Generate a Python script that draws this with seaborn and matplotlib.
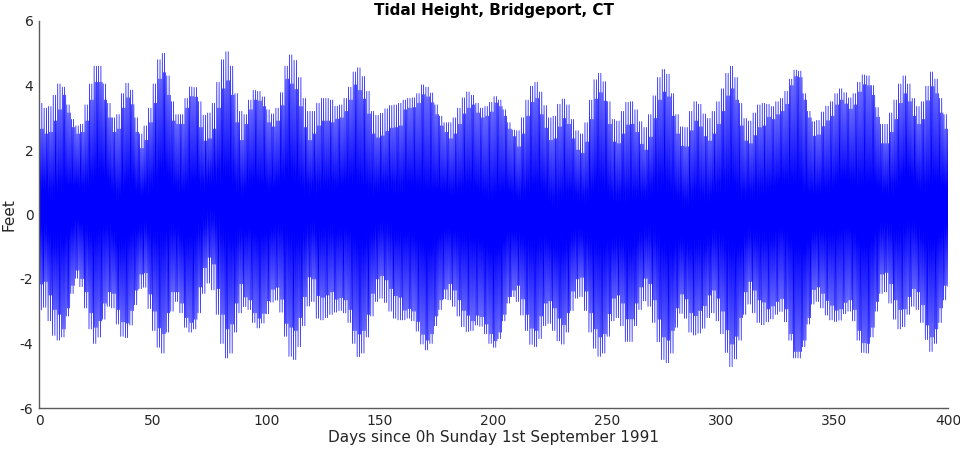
import numpy as np
import pandas as pd
import matplotlib
matplotlib.use("Agg")
import matplotlib.pyplot as plt
import seaborn as sns

# Envelope of the tide record, one sample every 2 days
days = list(range(0, 401, 2))
high_water = [
    3.45, 3.3, 3.35, 3.7, 4.05, 3.95, 3.4, 2.95, 2.75, 2.8,
    3.4, 4.05, 4.6, 4.6, 4.05, 3.45, 3.0, 3.1, 3.75, 4.07,
    3.86, 3.0, 2.5, 2.75, 3.3, 4.05, 4.8, 5.0, 4.3, 3.5,
    3.1, 3.1, 3.6, 3.96, 3.94, 3.5, 3.08, 3.15, 3.45, 4.1,
    4.8, 5.05, 4.6, 3.75, 3.2, 3.1, 3.55, 3.85, 3.82, 3.65,
    3.25, 3.12, 3.3, 3.78, 4.6, 4.95, 4.78, 4.25, 3.6, 3.2,
    3.2, 3.45, 3.6, 3.6, 3.55, 3.36, 3.4, 3.6, 3.95, 4.42,
    4.55, 4.28, 3.82, 3.2, 3.08, 3.14, 3.28, 3.38, 3.4, 3.45,
    3.55, 3.6, 3.62, 3.75, 4.02, 3.95, 3.77, 3.4, 3.05, 2.85,
    2.85, 3.0, 3.3, 3.62, 3.8, 3.7, 3.45, 3.3, 3.35, 3.48,
    3.66, 3.55, 3.25, 2.85, 2.62, 2.6, 3.0, 3.55, 3.98, 4.1,
    3.8, 3.38, 3.0, 3.05, 3.42, 3.58, 3.4, 2.95, 2.6, 2.5,
    2.85, 3.55, 4.18, 4.38, 4.12, 3.5, 2.95, 2.9, 3.2, 3.48,
    3.5, 3.25, 2.88, 2.7, 3.1, 3.68, 4.25, 4.5, 4.35, 3.75,
    3.1, 2.72, 2.7, 3.2, 3.5, 3.42, 3.12, 2.98, 3.2, 3.5,
    3.9, 4.38, 4.6, 4.25, 3.45, 2.98, 2.9, 3.15, 3.4, 3.45,
    3.42, 3.35, 3.5, 3.6, 3.82, 4.2, 4.48, 4.45, 3.75, 3.2,
    2.88, 2.92, 3.18, 3.36, 3.5, 3.75, 3.9, 3.78, 3.62, 3.75,
    4.1, 4.33, 4.3, 4.0, 3.32, 2.8, 2.8, 3.15, 3.55, 4.05,
    4.3, 4.05, 3.6, 3.35, 3.5, 3.98, 4.42, 4.2, 3.6, 3.1,
    2.62,
]
low_water = [
    -2.96, -2.88, -3.3, -3.75, -3.9, -3.8, -3.15, -2.45, -1.98, -2.24,
    -2.9, -3.55, -4.0, -3.8, -3.25, -2.85, -2.9, -3.4, -3.78, -3.82,
    -3.43, -2.8, -2.3, -2.26, -2.92, -3.6, -4.12, -4.3, -3.65, -3.0,
    -2.7, -3.05, -3.5, -3.65, -3.55, -3.05, -2.45, -2.13, -2.34, -3.1,
    -4.0, -4.45, -4.3, -3.65, -3.05, -2.86, -2.95, -3.35, -3.52, -3.37,
    -3.08, -2.72, -2.66, -3.03, -3.78, -4.4, -4.5, -4.1, -3.45, -2.84,
    -2.7, -3.22, -3.27, -3.2, -3.1, -3.03, -2.98, -3.05, -3.35, -4.0,
    -4.41, -4.3, -3.8, -3.15, -2.7, -2.6, -2.73, -3.0, -3.22, -3.27,
    -3.27, -3.22, -3.3, -3.62, -4.02, -4.2, -4.0, -3.45, -2.95, -2.62,
    -2.65, -2.85, -3.15, -3.48, -3.63, -3.6, -3.43, -3.47, -3.7, -4.0,
    -4.12, -3.85, -3.3, -2.75, -2.55, -2.7, -3.12, -3.6, -4.03, -4.1,
    -3.85, -3.45, -3.38, -3.6, -3.92, -4.02, -3.65, -2.98, -2.6, -2.55,
    -2.98, -3.65, -4.15, -4.4, -4.3, -3.78, -3.3, -3.2, -3.45, -3.94,
    -3.94, -3.45, -2.95, -2.68, -2.85, -3.35, -3.95, -4.5, -4.6, -4.3,
    -3.5, -3.07, -3.22, -3.65, -3.74, -3.68, -3.53, -3.2, -3.05, -3.3,
    -3.7, -4.28, -4.72, -4.48, -3.9, -3.1, -2.78, -3.05, -3.35, -3.42,
    -3.33, -3.24, -3.1, -3.01, -3.33, -3.9, -4.45, -4.45, -4.1, -3.4,
    -2.78, -2.7, -2.9, -3.12, -3.27, -3.32, -3.28, -3.08, -3.0, -3.3,
    -3.9, -4.28, -4.3, -3.8, -3.0, -2.45, -2.4, -2.75, -3.25, -3.55,
    -3.48, -3.1, -2.85, -2.95, -3.35, -3.88, -4.25, -4.0, -3.35, -2.65,
    -2.24,
]
# Diurnal inequality (ft) between successive tides, one value every 10 days
gap_days = list(range(0, 401, 10))
diurnal_gap = [
    0.8, 0.25, 0.5, 0.45, 0.45, 0.6, 0.3, 0.8, 0.9, 0.3,
    0.4, 0.9, 0.7, 0.4, 0.7, 0.7, 0.3, 0.3, 0.5, 0.3,
    0.2, 0.5, 0.7, 0.6, 0.6, 0.7, 0.7, 0.7, 0.6, 0.7,
    0.7, 0.7, 0.4, 0.2, 0.45, 0.35, 0.3, 0.6, 0.55, 0.45,
    0.4,
]
x_ticks = [0, 50, 100, 150, 200, 250, 300, 350, 400]
y_ticks = [-6, -4, -2, 0, 2, 4, 6]

# Each 2-day block holds four semidiurnal cycles: low, high, low, high ...
gap_lookup = dict(zip(gap_days, diurnal_gap))
times, heights = [], []
for i, d in enumerate(days):
    if d >= 400:
        times.append(d)
        heights.append(low_water[i])
        break
    g = gap_lookup[(d // 10) * 10]
    for k in range(4):
        lo = low_water[i] + (g if k % 2 == 1 else 0.0)
        hi = high_water[i] - (g if k % 2 == 1 else 0.0)
        times += [d + 0.5 * k, d + 0.5 * k + 0.25]
        heights += [lo, hi]
df = pd.DataFrame({"day": times, "height": heights})

sns.set_theme(style="white")
plt.rcParams["font.family"] = ["DejaVu Sans"]
plt.rcParams["axes.unicode_minus"] = False

fig = plt.figure(figsize=(9.6, 4.5), dpi=100)
ax = fig.add_axes([39 / 960, 1 - 408 / 450, (948 - 39) / 960, (408 - 21) / 450])
sns.lineplot(data=df, x="day", y="height", ax=ax, color="#0000ff",
             linewidth=0.5, estimator=None, sort=False)

ax.set_xlim(0, 400)
ax.set_ylim(-6, 6)
ax.set_xticks(x_ticks)
ax.set_yticks(y_ticks)
ax.set_xticklabels([str(v) for v in x_ticks])
ax.set_yticklabels([str(v) for v in y_ticks])
for s in ["top", "right"]:
    ax.spines[s].set_visible(False)
for s in ["left", "bottom"]:
    ax.spines[s].set_color("#5a5a5a")
    ax.spines[s].set_linewidth(1.0)
ax.tick_params(direction="in", length=7, width=0.8, color="#5a5a5a",
               labelsize=10, labelcolor="#262626", pad=4)
ax.set_xlabel("Days since 0h Sunday 1st September 1991", fontsize=11,
              color="#262626", labelpad=2)
ax.set_ylabel("Feet", fontsize=11, color="#262626", labelpad=2)
ax.set_title("Tidal Height, Bridgeport, CT", fontsize=11, fontweight="bold",
             color="black", pad=4)
ax.grid(False)

fig.savefig("out.png", dpi=100)
